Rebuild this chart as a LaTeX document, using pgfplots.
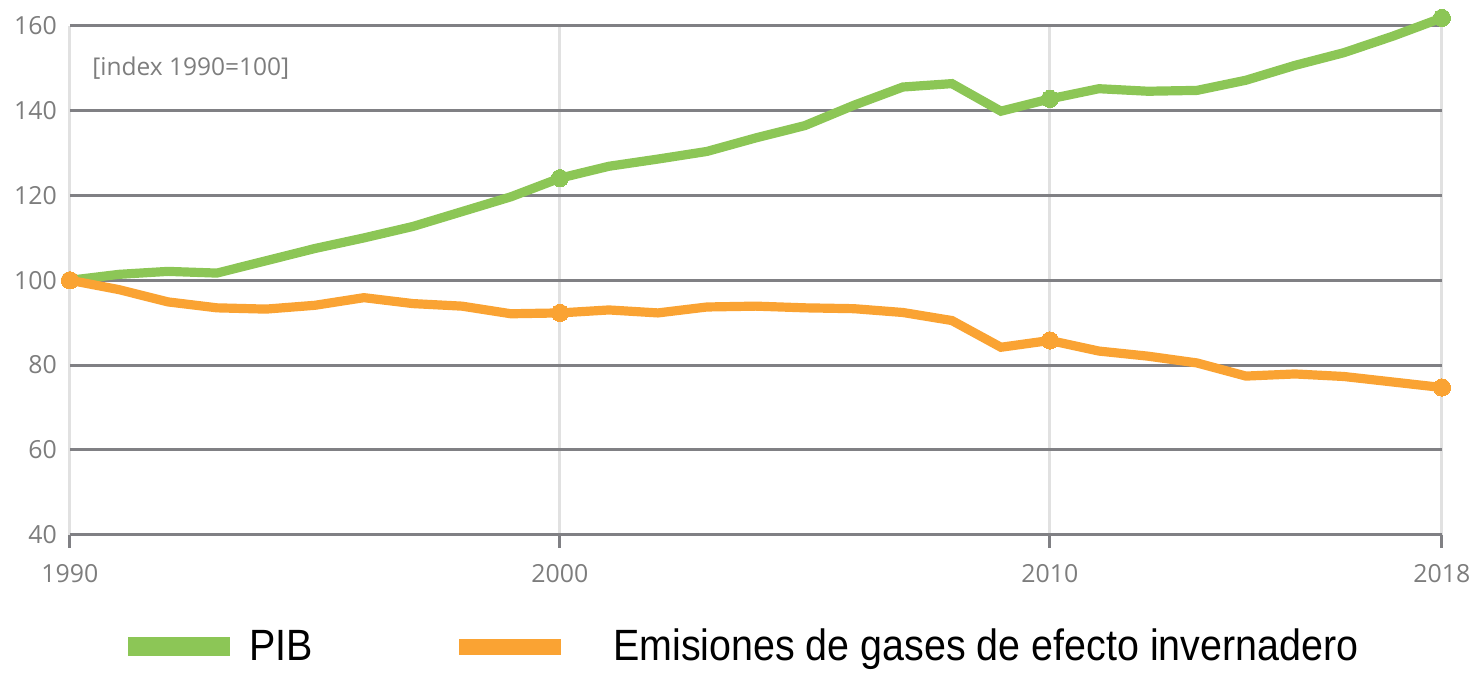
\documentclass[border=0pt]{standalone}
\usepackage{pgfplots}
\pgfplotsset{compat=1.18}
\usepackage{fontspec}
\setmainfont{Open Sans}
\newfontfamily\legfont[FakeStretch=0.9]{Liberation Sans}
\definecolor{pibgreen}{RGB}{140,198,86}
\definecolor{emorange}{RGB}{250,163,51}
\definecolor{gridgray}{RGB}{128,128,132}
\definecolor{vgrid}{RGB}{225,225,225}
\definecolor{labgray}{RGB}{125,125,125}
\begin{document}
\begin{tikzpicture}
\begin{axis}[
  at={(0,0)}, anchor=south west,
  scale only axis,
  width=686.5bp, height=254.5bp,
  xmin=1990, xmax=2018, ymin=40, ymax=160,
  xtick={1990,2000,2010,2018},
  ytick={40,60,80,100,120,140,160},
  xticklabels={1990,2000,2010,2018},
  /pgf/number format/assume math mode=true,
  axis line style={draw=none},
  tick pos=left,
  xtick align=outside,
  ytick align=inside,
  major tick length=6.5bp,
  xtick style={draw=gridgray, line width=1.5bp},
  ytick style={draw=none},
  xmajorgrids, ymajorgrids,
  x grid style={draw=vgrid, line width=1.5bp},
  y grid style={draw=gridgray, line width=1.5bp},
  ticklabel style={font=\fontsize{12.5}{14}\selectfont, text=labgray},
  yticklabel style={xshift=-3bp},
  xticklabel style={yshift=-5bp},
  clip=false,
  legend columns=2,
  legend style={draw=none, fill=none, at={(0.0422,-0.22)}, anchor=west,
    font=\legfont\fontsize{22}{25}\selectfont, inner sep=0pt,
    /tikz/every even column/.append style={column sep=71bp}},
]
\addlegendimage{legend image code/.code={\fill[pibgreen] (0bp,-4.5bp) rectangle (50.5bp,4.5bp);\path[draw=none] (0,0) -- (58.5bp,0);}}
\addlegendentry{PIB}
\addlegendimage{legend image code/.code={\fill[emorange] (0bp,-3.8bp) rectangle (50.5bp,3.8bp);\path[draw=none] (0,0) -- (75bp,0);}}
\addlegendentry{Emisiones de gases de efecto invernadero}

\addplot[pibgreen, line width=4.6bp, mark=*, mark size=4.3bp, mark indices={1,11,21,29}, mark options={line width=0pt}, forget plot] coordinates {
(1990,100) (1991,101.4) (1992,102.1) (1993,101.7) (1994,104.6) (1995,107.5)
(1996,110.0) (1997,112.7) (1998,116.2) (1999,119.7) (2000,124.1) (2001,126.9)
(2002,128.6) (2003,130.4) (2004,133.6) (2005,136.5) (2006,141.3) (2007,145.6)
(2008,146.4) (2009,139.9) (2010,142.8) (2011,145.2) (2012,144.6) (2013,144.8)
(2014,147.2) (2015,150.7) (2016,153.7) (2017,157.6) (2018,161.9)};
\addplot[emorange, line width=4.6bp, mark=*, mark size=4.3bp, mark indices={1,11,21,29}, mark options={line width=0pt}, forget plot] coordinates {
(1990,100) (1991,97.8) (1992,94.9) (1993,93.5) (1994,93.2) (1995,94.1)
(1996,95.9) (1997,94.5) (1998,93.9) (1999,92.1) (2000,92.3) (2001,93.0)
(2002,92.3) (2003,93.7) (2004,93.9) (2005,93.5) (2006,93.3) (2007,92.4)
(2008,90.5) (2009,84.2) (2010,85.8) (2011,83.3) (2012,82.1) (2013,80.5)
(2014,77.4) (2015,77.9) (2016,77.3) (2017,76.0) (2018,74.7)};
\node[anchor=west, text=labgray, font=\fontsize{12.3}{14}\selectfont, inner sep=0pt] at (rel axis cs:0.016,0.9175) {[index 1990=100]};
\end{axis}
\path (-35bp,-69.5bp) rectangle (703.5bp,267.5bp);
\end{tikzpicture}
\end{document}
